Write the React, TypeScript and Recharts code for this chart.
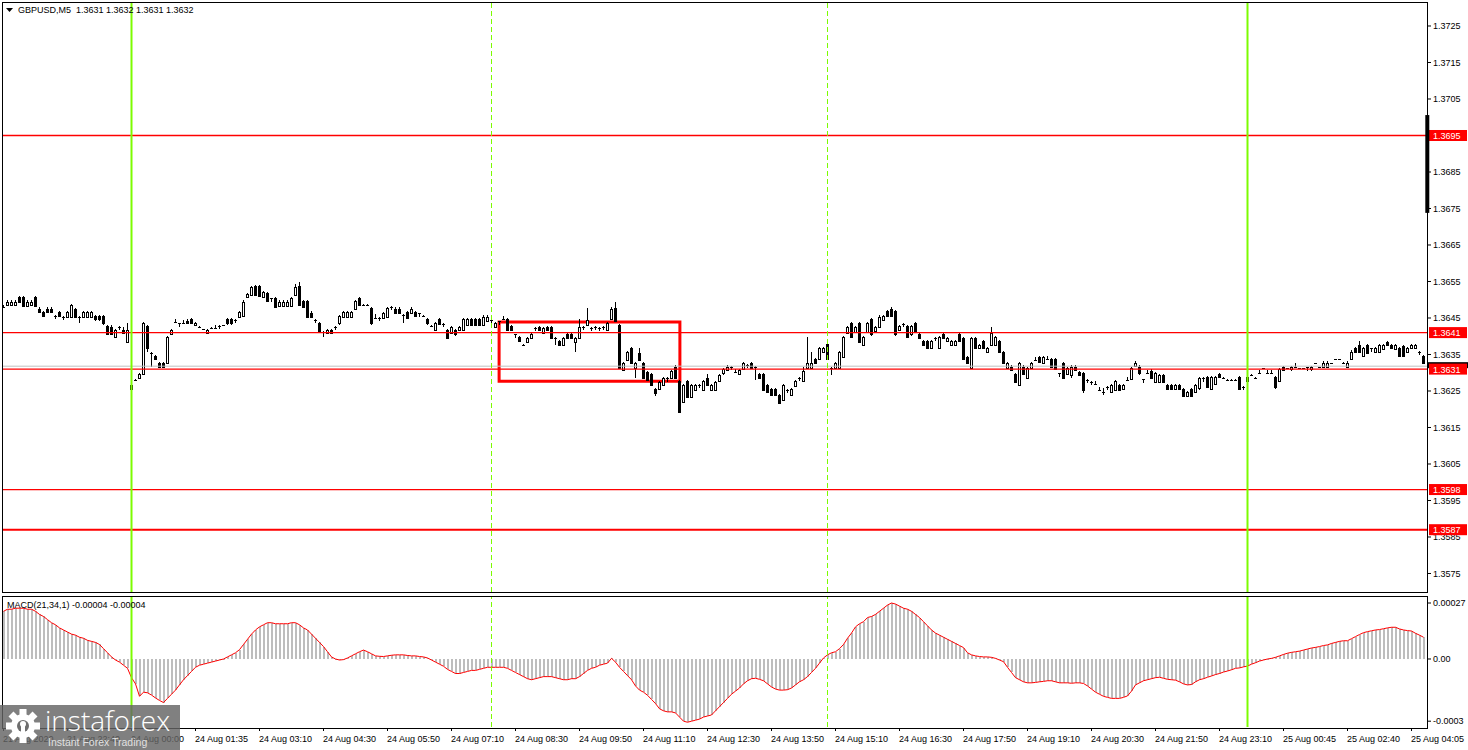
import { ComposedChart, Bar, Line, XAxis, YAxis, ReferenceLine, ReferenceArea } from "recharts"

// GBPUSD M5 candles, values in pips above 1.3600: [open, high, low, close]
const bars21Aug = [
    [48.1, 48.5, 47.7, 48.1], [48.5, 49.8, 48.2, 49.5], [48.5, 49.8, 48.2, 49.5], [48.6, 49.9, 48.3, 49.5],
    [50.7, 51.0, 49.2, 49.5], [50.7, 51.0, 48.0, 48.3], [48.3, 49.8, 48.0, 49.5], [48.5, 49.8, 48.2, 49.5],
    [50.8, 51.1, 48.0, 48.3], [47.6, 47.9, 46.3, 46.6], [46.7, 47.0, 45.2, 45.5], [47.6, 47.9, 46.3, 46.6],
    [47.6, 47.9, 46.3, 46.6], [45.5, 45.7, 44.6, 45.5], [46.7, 47.0, 45.2, 45.5], [45.4, 45.6, 44.5, 45.4],
    [45.4, 46.9, 45.1, 46.6], [45.4, 48.9, 45.1, 48.6], [47.5, 47.8, 45.1, 45.4], [45.4, 45.6, 43.5, 45.4],
    [45.4, 46.9, 45.1, 46.6], [45.4, 46.9, 45.1, 46.6], [45.4, 46.9, 45.1, 46.6], [45.5, 45.8, 44.3, 44.6],
    [45.5, 45.8, 44.3, 44.6], [45.5, 45.8, 43.2, 43.5], [42.8, 43.1, 40.3, 40.6], [42.5, 43.2, 40.3, 40.6],
    [39.7, 42.0, 39.4, 41.7], [42.6, 42.8, 41.7, 42.6], [41.7, 42.6, 40.5, 40.8], [38.5, 43.7, 38.2, 41.7],
]

const bars24AugNight = [
    [25.5, 26.9, 25.2, 26.6], [28.0, 28.2, 27.8, 28.0], [28.5, 29.9, 28.2, 29.6], [29.6, 43.8, 29.3, 43.5],
    [42.8, 43.1, 35.8, 36.7], [35.5, 35.7, 31.5, 35.5], [34.6, 34.9, 33.4, 33.7], [32.6, 32.9, 31.2, 31.5],
    [32.6, 32.9, 31.2, 31.5], [32.6, 40.0, 32.3, 39.7], [40.6, 42.0, 40.3, 41.7], [43.8, 44.6, 43.6, 43.8],
    [43.5, 43.7, 42.6, 43.5], [43.5, 44.4, 43.3, 43.5], [44.3, 44.6, 43.4, 43.7], [44.6, 44.9, 43.4, 43.7],
    [43.1, 44.0, 42.8, 43.7], [42.6, 42.8, 42.4, 42.6], [41.9, 42.1, 41.7, 41.9], [40.8, 42.0, 40.5, 41.7],
    [42.3, 42.5, 42.1, 42.3], [42.2, 43.1, 42.0, 42.2], [42.8, 43.0, 41.9, 42.8], [43.0, 43.2, 42.8, 43.0],
    [44.6, 44.9, 43.2, 43.5], [44.6, 44.9, 43.2, 43.5], [44.5, 44.7, 43.6, 44.5], [45.4, 46.9, 45.1, 46.6],
    [45.5, 49.8, 45.2, 49.5], [50.7, 51.9, 50.4, 51.6], [51.3, 53.9, 51.0, 53.6], [53.8, 54.1, 51.0, 51.3],
    [53.8, 54.1, 50.7, 51.0], [50.8, 52.5, 50.5, 52.2], [51.8, 52.1, 49.4, 49.7], [50.4, 50.6, 49.5, 50.4],
    [50.4, 50.7, 47.8, 48.1], [48.3, 49.8, 48.0, 49.5], [48.3, 49.8, 48.0, 49.5], [48.3, 49.8, 48.0, 49.5],
    [48.3, 50.7, 48.0, 50.4], [51.3, 54.3, 51.0, 53.6], [53.8, 54.9, 48.3, 48.6], [49.7, 50.0, 47.8, 48.1],
    [49.7, 50.0, 45.1, 45.4], [46.5, 46.8, 45.1, 45.4], [44.5, 44.7, 43.6, 44.5], [43.7, 44.0, 41.2, 41.5],
    [41.2, 41.4, 39.8, 41.2], [40.8, 42.0, 40.5, 41.7], [41.7, 42.0, 40.5, 40.8], [42.6, 42.8, 41.7, 42.6],
    [43.5, 45.8, 43.2, 45.5], [45.4, 46.9, 45.1, 46.6], [45.4, 46.9, 45.1, 46.6], [45.4, 46.9, 45.1, 46.6],
    [47.6, 50.0, 47.3, 49.7], [50.4, 50.7, 48.3, 48.6], [48.6, 48.8, 48.4, 48.6], [48.6, 48.8, 48.4, 48.6],
    [47.8, 48.1, 43.2, 43.5], [45.1, 46.0, 44.9, 45.1], [45.1, 45.3, 44.2, 45.1], [45.1, 46.6, 44.8, 46.3],
    [45.4, 48.1, 45.1, 47.8], [48.1, 48.3, 47.2, 48.1], [47.6, 47.9, 46.0, 46.3], [47.6, 47.9, 46.0, 46.3],
    [45.8, 46.0, 43.5, 45.8], [46.6, 46.9, 44.6, 44.9], [46.3, 47.9, 46.0, 47.6], [46.7, 47.0, 45.3, 45.6],
    [46.3, 46.5, 45.4, 46.3], [45.6, 45.8, 45.4, 45.6], [44.7, 45.0, 43.2, 43.5], [42.9, 43.1, 42.7, 42.9],
    [41.7, 43.8, 41.4, 43.5], [44.7, 45.0, 43.0, 43.3], [43.3, 43.5, 42.4, 43.3], [41.7, 42.0, 39.3, 39.6],
    [40.8, 42.9, 40.5, 42.6], [41.7, 42.0, 40.2, 40.5], [41.7, 42.9, 41.4, 42.6], [41.7, 45.0, 41.4, 44.7],
    [43.1, 45.0, 42.8, 44.7], [44.7, 45.0, 42.8, 43.1], [44.7, 45.0, 42.8, 43.1], [44.7, 45.0, 42.8, 43.1],
    [43.1, 45.7, 42.8, 45.4], [44.2, 45.7, 43.9, 45.4],
]

const bars24AugDay = [
    [44.5, 44.7, 43.6, 44.5], [42.6, 43.8, 42.3, 43.5], [44.1, 44.3, 43.2, 44.1], [44.7, 45.6, 44.5, 44.7],
    [44.7, 45.0, 41.4, 41.7], [42.9, 43.2, 41.4, 41.7], [40.5, 40.7, 39.6, 40.5], [39.9, 40.2, 38.4, 38.7],
    [37.6, 37.8, 37.4, 37.6], [38.5, 39.9, 38.2, 39.6], [39.6, 40.8, 39.3, 40.5], [42.2, 42.4, 41.3, 42.2],
    [42.6, 42.9, 41.4, 41.7], [40.8, 42.5, 40.5, 42.2], [42.6, 42.9, 41.4, 41.7], [42.6, 42.9, 39.3, 39.6],
    [39.6, 39.8, 37.6, 39.6], [38.7, 39.0, 37.3, 37.6], [37.6, 39.9, 37.3, 39.6], [40.5, 40.8, 39.3, 39.6],
    [40.5, 40.8, 39.3, 39.6], [38.5, 39.9, 35.8, 39.6], [39.6, 44.7, 39.3, 42.6], [42.6, 42.8, 41.7, 42.6],
    [43.1, 47.8, 42.8, 44.5], [42.3, 42.5, 41.4, 42.3], [42.6, 42.8, 41.7, 42.6], [42.2, 42.4, 41.3, 42.2],
    [42.6, 42.8, 41.7, 42.6], [41.7, 43.8, 41.4, 43.5], [44.7, 47.9, 44.4, 47.6], [47.8, 49.5, 43.9, 44.2],
    [43.1, 43.4, 31.1, 31.4], [30.8, 32.9, 30.5, 32.6], [33.5, 35.9, 33.2, 35.6], [36.7, 37.0, 32.3, 32.6],
    [31.4, 32.9, 28.5, 32.6], [35.3, 36.7, 33.2, 33.5], [32.6, 32.9, 28.2, 28.5], [30.3, 30.6, 27.7, 28.0],
    [29.6, 29.9, 26.3, 26.6], [25.5, 25.8, 23.5, 24.4], [25.5, 27.7, 25.2, 27.4], [26.6, 28.8, 26.3, 28.5],
    [28.5, 28.7, 27.6, 28.5], [28.5, 30.8, 28.2, 30.5], [31.7, 32.0, 28.2, 28.5], [27.7, 28.0, 19.0, 19.3],
    [22.1, 26.9, 21.8, 26.6], [27.7, 28.0, 23.1, 23.4], [23.4, 26.9, 23.1, 26.6], [25.3, 26.9, 25.0, 26.6],
    [26.6, 26.8, 25.7, 26.6], [25.3, 28.0, 25.0, 27.7], [28.5, 29.6, 26.3, 26.6], [25.3, 26.9, 25.0, 26.6],
    [25.3, 27.7, 25.0, 27.4], [27.7, 29.6, 27.4, 29.3], [29.8, 31.3, 29.5, 31.0], [30.8, 32.0, 30.5, 31.7],
    [31.7, 31.9, 30.8, 31.7], [30.1, 31.0, 29.9, 30.1], [29.6, 31.1, 29.3, 30.8], [31.0, 32.9, 30.7, 32.6],
    [32.2, 32.4, 31.3, 32.2], [32.6, 32.9, 31.1, 31.4], [31.7, 31.9, 28.0, 31.7], [29.6, 29.9, 28.2, 28.5],
    [29.6, 29.9, 25.0, 25.3], [26.6, 26.9, 24.5, 24.8], [25.5, 25.8, 23.6, 23.9], [25.5, 25.8, 23.6, 23.9],
    [23.9, 24.2, 21.3, 21.6], [22.5, 26.9, 22.2, 26.6], [25.3, 25.5, 24.4, 25.3], [23.9, 25.8, 23.6, 25.5],
    [26.5, 28.0, 26.2, 27.7], [28.6, 28.8, 27.7, 28.6], [27.7, 31.7, 27.4, 30.5], [31.4, 39.9, 31.1, 32.6],
    [31.4, 35.6, 31.1, 32.6], [33.8, 34.1, 32.3, 32.6], [33.8, 37.0, 33.5, 36.7], [35.6, 37.0, 35.3, 36.7],
]

const bars24AugEvening = [
    [37.8, 38.1, 33.5, 33.8], [31.4, 31.6, 29.3, 31.4], [31.4, 32.9, 31.1, 32.6], [31.4, 35.9, 31.1, 35.6],
    [34.4, 40.2, 34.1, 39.9], [40.8, 42.9, 40.5, 42.6], [43.5, 43.8, 39.6, 39.9], [41.1, 42.9, 40.8, 42.6],
    [43.5, 43.8, 38.2, 38.5], [37.6, 40.2, 37.3, 39.9], [41.1, 43.8, 40.8, 43.5], [44.7, 45.0, 40.2, 40.5],
    [41.3, 42.9, 41.0, 42.6], [42.6, 45.7, 42.3, 45.4], [44.5, 45.9, 44.2, 45.6], [46.9, 47.2, 45.3, 45.6],
    [47.6, 48.0, 45.3, 45.6], [46.9, 47.2, 40.2, 40.5], [41.7, 43.2, 41.4, 42.9], [43.3, 43.5, 42.4, 43.3],
    [42.9, 43.2, 39.6, 39.9], [40.5, 43.2, 40.2, 42.9], [43.5, 43.8, 41.1, 41.4], [40.5, 40.8, 39.3, 39.6],
    [38.7, 39.0, 37.3, 37.6], [38.7, 39.0, 36.4, 36.7], [36.7, 39.0, 36.4, 38.7], [39.6, 39.8, 38.7, 39.6],
    [36.7, 40.2, 36.4, 39.9], [40.5, 40.8, 39.3, 39.6], [38.7, 39.9, 38.4, 39.6], [37.6, 39.0, 37.3, 38.7],
    [37.6, 39.0, 37.3, 38.7], [40.5, 40.8, 38.4, 38.7], [39.6, 39.9, 33.5, 33.8], [34.4, 34.7, 32.3, 32.6],
    [31.4, 39.9, 31.1, 39.6], [39.6, 39.9, 36.4, 36.7], [36.7, 37.9, 36.4, 37.6], [38.7, 39.0, 36.4, 36.7],
    [35.6, 37.0, 35.3, 36.7], [37.6, 42.6, 37.3, 40.8], [37.6, 40.2, 37.3, 39.9], [38.7, 39.0, 35.3, 35.6],
    [35.6, 35.9, 32.3, 32.6], [31.4, 32.9, 31.1, 32.6], [31.7, 32.0, 30.5, 30.8], [29.6, 29.9, 27.1, 27.4],
    [26.6, 32.9, 26.3, 32.6], [31.7, 32.0, 29.3, 29.6], [28.5, 31.7, 28.2, 31.4], [31.2, 32.9, 30.9, 32.6],
    [33.5, 34.4, 33.3, 33.5], [34.4, 34.7, 32.7, 33.0], [32.6, 34.7, 32.3, 34.4], [33.8, 34.7, 33.6, 33.8],
    [33.8, 34.1, 31.4, 31.7], [33.8, 34.1, 30.7, 31.0], [29.8, 30.0, 28.9, 29.8], [32.6, 32.9, 28.2, 28.5],
    [29.6, 31.7, 29.3, 31.4], [29.3, 32.0, 28.5, 31.7], [31.7, 32.0, 30.5, 30.8], [30.3, 30.6, 29.1, 29.4],
    [29.8, 30.1, 24.5, 25.3], [28.0, 28.2, 27.1, 28.0], [27.5, 27.7, 26.6, 27.5], [26.9, 27.8, 26.7, 26.9],
    [25.3, 26.2, 25.1, 25.3], [24.8, 25.7, 24.0, 24.8], [26.2, 26.4, 25.3, 26.2], [24.8, 26.9, 24.5, 26.6],
    [25.3, 28.1, 25.0, 27.8], [26.6, 26.9, 25.0, 25.3], [25.5, 26.9, 25.2, 26.6], [28.0, 28.9, 27.8, 28.0],
    [28.2, 31.5, 27.9, 31.2], [31.8, 33.1, 31.5, 32.8], [31.7, 32.0, 29.5, 29.8], [28.2, 28.4, 27.3, 28.2],
    [29.8, 30.7, 29.6, 29.8], [30.6, 30.9, 28.2, 28.5], [27.5, 30.1, 27.2, 29.8], [27.5, 29.7, 27.2, 29.4],
    [29.4, 29.7, 27.2, 27.5], [26.6, 26.9, 25.2, 25.5], [26.6, 26.9, 25.2, 25.5], [25.5, 26.9, 25.2, 26.6],
    [26.6, 26.9, 25.2, 25.5], [25.5, 25.8, 23.3, 23.6], [23.6, 25.1, 23.3, 24.8], [25.5, 25.8, 23.3, 23.6],
    [24.8, 26.9, 24.5, 26.6], [25.7, 28.8, 25.4, 28.5], [28.5, 28.7, 27.6, 28.5], [28.8, 29.1, 25.9, 26.2],
    [25.5, 29.1, 25.2, 28.8], [26.9, 29.1, 26.6, 28.8], [29.7, 30.0, 28.5, 28.8], [28.5, 28.7, 28.3, 28.5],
    [28.0, 28.2, 27.8, 28.0], [28.0, 28.2, 27.8, 28.0], [28.0, 28.2, 27.8, 28.0], [28.8, 29.1, 25.2, 25.5],
    [26.2, 26.4, 25.3, 26.2],
]

const bars25Aug = [
    [27.8, 29.1, 27.5, 28.8], [29.4, 29.6, 29.2, 29.4], [28.5, 28.7, 28.3, 28.5], [29.8, 30.7, 29.6, 29.8],
    [31.2, 31.4, 31.0, 31.2], [29.8, 30.7, 29.6, 29.8], [29.8, 30.7, 29.6, 29.8], [28.8, 29.1, 25.5, 26.2],
    [27.8, 31.3, 27.5, 31.0], [31.5, 31.8, 30.5, 30.8], [31.2, 31.4, 31.0, 31.2], [30.9, 31.8, 30.6, 31.5],
    [31.5, 32.8, 31.3, 31.5], [31.2, 31.4, 31.0, 31.2], [31.2, 31.4, 31.0, 31.2], [31.5, 31.7, 30.6, 31.5],
    [30.9, 31.8, 30.6, 31.5], [32.6, 32.8, 32.4, 32.6], [31.5, 31.7, 31.3, 31.5], [31.7, 33.1, 31.4, 32.8],
    [31.7, 33.1, 31.4, 32.8], [32.6, 32.8, 32.4, 32.6], [33.7, 33.9, 33.5, 33.7], [33.7, 33.9, 33.5, 33.7],
    [32.8, 33.0, 32.6, 32.8], [31.5, 33.1, 31.2, 32.8], [33.7, 36.1, 33.4, 35.8], [36.7, 37.0, 35.5, 35.8],
    [37.6, 38.8, 35.5, 35.8], [34.6, 37.0, 34.3, 36.7], [37.6, 37.9, 35.2, 35.5], [36.7, 36.9, 35.8, 36.7],
    [35.8, 37.0, 35.5, 36.7], [35.8, 37.9, 35.5, 37.6], [36.4, 37.9, 36.1, 37.6], [38.5, 38.8, 37.3, 37.6],
    [37.6, 37.9, 36.4, 36.7], [36.4, 37.9, 36.1, 37.6], [36.7, 37.0, 34.3, 34.6], [37.3, 37.6, 34.3, 34.6],
    [35.8, 37.0, 35.5, 36.7], [36.7, 37.9, 36.4, 37.6], [36.7, 37.9, 36.4, 37.6], [35.8, 36.0, 34.9, 35.8],
    [34.6, 34.9, 32.3, 32.6],
]

// MACD(21,34,1) main value per candle, in units of 0.00001
const macd21Aug = [
    23, 24, 24, 24.5, 24.5, 24.5, 24, 24, 23, 21.5, 20.5, 19, 17.5, 16.5, 15, 14,
    13, 12, 11.5, 10.5, 10, 9, 8.5, 8, 7, 5, 3, 1, -0.5, -1.5, -3, -4.5,
]
const macd24AugNight = [
    -9, -12, -18, -16, -16.3, -17.4, -18.8, -20, -21, -19, -17, -15, -12.5, -10, -8, -6,
    -4, -3, -2.5, -2, -1.5, -1, -0.5, 0, 1, 2, 3, 4.5, 7, 9.5, 12, 14,
    15.5, 16.5, 17.5, 17.5, 17, 17, 17, 17, 17.5, 17.5, 16.5, 15, 14, 12, 10, 8,
    6, 3.5, 1, 0, -0.5, -0.3, 0.5, 1.5, 2.5, 3.5, 4.3, 3.5, 2.5, 1.5, 1.3, 1.2,
    1.5, 1.8, 2, 2, 2, 1.7, 1.5, 1.5, 1.2, 1, 0.5, -0.5, -1.5, -2.5, -3.5, -5,
    -6, -7, -7, -6.5, -6, -5.5, -5.5, -5, -4.5, -4,
]
const macd24AugDay = [
    -4, -4, -4, -4, -4.5, -5.5, -6.5, -7.5, -8.5, -9.5, -10, -9.5, -9, -8.5, -8.5, -8.5,
    -9, -9.5, -10, -10, -9.5, -9.5, -8.5, -7, -5.5, -4.5, -4, -3, -2.5, -2, 0.3, -1.5,
    -4, -6, -8, -10, -13, -15, -16, -17.5, -19.5, -21.5, -24, -25, -25.5, -25.5, -26, -28,
    -30, -30.5, -30, -29.5, -29, -28, -27.5, -27, -25, -23, -21, -19, -17, -15.5, -14, -12,
    -10.5, -9.5, -9.3, -9.8, -10.5, -12, -13.5, -14.5, -15, -15, -14.8, -14, -12.5, -11, -10, -8.5,
    -6.5, -4.5, -2, 0.5,
]
const macd24AugEvening = [
    2, 3, 3.5, 5, 7, 10, 12.5, 15.5, 17, 18, 20, 20.5, 21.5, 23, 24.5, 26,
    27, 26.5, 25.5, 24.5, 24, 23, 21.5, 20, 18, 16, 14, 12.5, 11.5, 10.5, 9.5, 8.5,
    7.5, 6.5, 5.5, 3, 2, 1.5, 1.2, 1, 1, 0.8, 0.3, -0.5, -1.3, -4, -6.5, -9,
    -10, -11, -11.5, -11.5, -11.3, -11, -10.8, -10.5, -10.5, -11, -11.5, -11.5, -11.5, -11.7, -11.5, -11.5,
    -11.8, -13, -14.5, -16, -17, -18, -18.5, -19, -19, -19, -18.5, -17.8, -15.5, -12.5, -11.5, -10.5,
    -10, -9.5, -9, -8.8, -9.3, -9.8, -10, -10.2, -11, -12, -12.5, -12.3, -11, -10, -9.5, -8.8,
    -8.2, -7.5, -7, -6.3, -5.8, -5.2, -4.5, -4.3, -3.8,
]
const macd25Aug = [
    -3.4, -2.5, -1.8, -1, -0.5, 0, 0.3, 0.8, 1.5, 2.2, 2.8, 3.2, 3.5, 3.8, 4.3, 4.8,
    5.3, 5.6, 6, 6.5, 6.8, 7.5, 8, 8.5, 8.8, 8.8, 9.8, 10.8, 11.8, 12.7, 13.2, 13.6,
    14, 14.2, 14.6, 15, 15.3, 15.3, 14.5, 14, 13.7, 13.5, 12.4, 11.5, 10.5,
]

const priceTicks = [
    1.3575, 1.3585, 1.3595, 1.3605, 1.3615, 1.3625, 1.3635, 1.3645,
    1.3655, 1.3665, 1.3675, 1.3685, 1.3695, 1.3705, 1.3715, 1.3725,
]
const levelPrices = [1.3695, 1.3641, 1.3631, 1.3598, 1.3587]
const bidPrice = 1.36318
const timeTickIdx = [0, 16, 32, 48, 64, 80, 96, 112, 128, 144, 160, 176, 192, 208, 224, 240, 256, 272, 288, 304, 320, 336, 352]
const timeLabels = [
    "21 Aug 2020", "21 Aug 22:40", "24 Aug 00:00", "24 Aug 01:35", "24 Aug 03:10", "24 Aug 04:30",
    "24 Aug 05:50", "24 Aug 07:10", "24 Aug 08:30", "24 Aug 09:50", "24 Aug 11:10", "24 Aug 12:30",
    "24 Aug 13:50", "24 Aug 15:10", "24 Aug 16:30", "24 Aug 17:50", "24 Aug 19:10", "24 Aug 20:30",
    "24 Aug 21:50", "24 Aug 23:10", "25 Aug 00:45", "25 Aug 02:40", "25 Aug 04:05",
]
const dayStarts = [32, 311]
const sessionMarks = [122, 206]
const macdTicks = [27, 0, -30]
const macdTickLabels = ["0.00027", "0.00", "-0.0003"]

const BASE = 1.36
const candles = [...bars21Aug, ...bars24AugNight, ...bars24AugDay, ...bars24AugEvening, ...bars25Aug]
const priceData = candles.map((c, i) => {
    const [o, h, l, cl] = c.map((p) => BASE + p / 10000)
    return { i, open: o, high: h, low: l, close: cl, range: [l, h] }
})
const macdValues = [...macd21Aug, ...macd24AugNight, ...macd24AugDay, ...macd24AugEvening, ...macd25Aug]
const macdData = macdValues.map((v, i) => ({ i, macd: v }))

const X_DOMAIN = [-0.375, 356.125]
const PRICE_DOMAIN = [1.356993, 1.37313]
const FONT = "'Liberation Sans', Arial, sans-serif"
const GREEN = "#7cfc00"
const levelWidths = [1.3, 1.3, 1.3, 1.3, 2]

function Candle(props: any) {
    const { x, y, width, height, payload } = props
    if (x == null || !payload) return null
    const top = Math.min(y, y + height)
    const span = Math.abs(height)
    const { open, close, high, low } = payload
    const k = span / (high - low)
    const yO = top + (high - open) * k
    const yC = top + (high - close) * k
    const c = Math.floor(x + width / 2)
    const bt = Math.round(Math.min(yO, yC))
    const bb = Math.round(Math.max(yO, yC))
    return (
        <g shapeRendering="crispEdges">
            <line x1={c + 0.5} x2={c + 0.5} y1={Math.round(top)} y2={Math.round(top + span)} stroke="#000" />
            {close > open ? (
                <rect x={c - 0.5} y={bt + 0.5} width={2} height={Math.max(1, bb - bt)} fill="#fff" stroke="#000" />
            ) : (
                <rect x={c - 1} y={bt} width={3} height={Math.max(1, bb - bt + 1)} fill="#000" />
            )}
        </g>
    )
}

function HistBar(props: any) {
    const { x, y, width, height } = props
    if (x == null) return null
    const c = Math.floor(x + width / 2)
    const top = Math.round(Math.min(y, y + height))
    const h = Math.max(1, Math.round(Math.abs(height)))
    return <rect x={c} y={top} width={2} height={h} fill="#bdbdbd" shapeRendering="crispEdges" />
}

const levelTag = (text: string) => (props: any) => {
    const vb = props.viewBox
    if (!vb) return null
    const x = vb.x + vb.width + 1
    const y = vb.y
    return (
        <g>
            <rect x={x} y={y - 5.5} width={38} height={11} fill="#ff0000" />
            <text x={x + 4} y={y + 3.5} fill="#fff" fontSize={9} fontFamily={FONT}>
                {text}
            </text>
        </g>
    )
}

// the bid price tag sits behind the 1.3631 tag, only its top edge shows
const bidTag = (props: any) => {
    const vb = props.viewBox
    if (!vb) return null
    return <rect x={vb.x + vb.width} y={vb.y - 4} width={40} height={6} fill="#000" />
}

function TimeTick(props: any) {
    const { x, y, payload } = props
    const idx = timeTickIdx.indexOf(payload.value)
    const px = Math.floor(x) + 0.5
    return (
        <g>
            <line x1={px} x2={px} y1={y + 1} y2={y + 4} stroke="#000" shapeRendering="crispEdges" />
            <text x={px - 0.5} y={y + 15} fontSize={9} fontFamily={FONT} fill="#000">
                {timeLabels[idx]}
            </text>
        </g>
    )
}

function PriceChart() {
    return (
        <ComposedChart width={1468} height={595} data={priceData} margin={{ top: 3, right: 0, left: 2, bottom: 3 }}>
            <XAxis type="number" dataKey="i" domain={X_DOMAIN} allowDataOverflow hide />
            <YAxis
                orientation="right"
                type="number"
                domain={PRICE_DOMAIN}
                allowDataOverflow
                ticks={priceTicks}
                interval={0}
                tickFormatter={(v: number) => v.toFixed(4)}
                width={40}
                tickSize={3}
                tickMargin={2}
                axisLine={false}
                tickLine={{ stroke: "#000" }}
                tick={{ fontSize: 9, fill: "#000", fontFamily: FONT }}
            />
            <ReferenceLine y={bidPrice} stroke="#c0c0c0" strokeWidth={1} />
            {levelPrices.map((p, k) => (
                <ReferenceLine key={p} y={p} stroke="#ff0000" strokeWidth={levelWidths[k]} />
            ))}
            <Bar dataKey="range" barSize={4} shape={(p: any) => <Candle {...p} />} isAnimationActive={false} />
            {dayStarts.map((d) => (
                <ReferenceLine key={d} x={d} stroke={GREEN} strokeWidth={2} />
            ))}
            {sessionMarks.map((d) => (
                <ReferenceLine key={d} x={d} stroke={GREEN} strokeWidth={1} strokeDasharray="5 3" />
            ))}
            <ReferenceArea
                x1={123.9}
                x2={169.1}
                y1={1.36277}
                y2={1.36439}
                fill="none"
                fillOpacity={0}
                stroke="#ff0000"
                strokeWidth={3}
                ifOverflow="visible"
            />
        </ComposedChart>
    )
}

// price tags on the right scale, drawn in a layer above the axis labels
function PriceTags() {
    return (
        <ComposedChart width={1468} height={595} data={priceData} margin={{ top: 3, right: 0, left: 2, bottom: 3 }}>
            <XAxis type="number" dataKey="i" domain={X_DOMAIN} allowDataOverflow hide />
            <YAxis orientation="right" type="number" domain={PRICE_DOMAIN} allowDataOverflow width={40} tick={false} tickLine={false} axisLine={false} />
            <ReferenceLine y={bidPrice} stroke="none" strokeOpacity={0} label={bidTag} />
            {levelPrices.map((p) => (
                <ReferenceLine key={p} y={p} stroke="none" strokeOpacity={0} label={levelTag(p.toFixed(4))} />
            ))}
            <ReferenceLine
                segment={[
                    { x: 355.95, y: 1.37006 },
                    { x: 355.95, y: 1.36738 },
                ]}
                stroke="#000"
                strokeWidth={4}
                ifOverflow="visible"
            />
        </ComposedChart>
    )
}

function MacdChart() {
    return (
        <ComposedChart width={1468} height={156} data={macdData} margin={{ top: 3, right: 0, left: 2, bottom: 0 }}>
            <XAxis
                type="number"
                dataKey="i"
                domain={X_DOMAIN}
                allowDataOverflow
                ticks={timeTickIdx}
                interval={0}
                height={23}
                tickSize={0}
                tickMargin={0}
                axisLine={false}
                tickLine={false}
                tick={(p: any) => <TimeTick {...p} />}
            />
            <YAxis
                orientation="right"
                type="number"
                domain={[-32.8, 29.9]}
                allowDataOverflow
                ticks={macdTicks}
                interval={0}
                tickFormatter={(v: number) => macdTickLabels[macdTicks.indexOf(v)]}
                width={40}
                tickSize={3}
                tickMargin={2}
                axisLine={false}
                tickLine={{ stroke: "#000" }}
                tick={{ fontSize: 9, fill: "#000", fontFamily: FONT }}
            />
            <Bar dataKey="macd" barSize={2} shape={(p: any) => <HistBar {...p} />} isAnimationActive={false} />
            <Line type="linear" dataKey="macd" stroke="#ff0000" strokeWidth={1} dot={false} isAnimationActive={false} />
            {dayStarts.map((d) => (
                <ReferenceLine key={d} x={d} stroke={GREEN} strokeWidth={2} />
            ))}
            {sessionMarks.map((d) => (
                <ReferenceLine key={d} x={d} stroke={GREEN} strokeWidth={1} strokeDasharray="5 3" />
            ))}
        </ComposedChart>
    )
}

function Gear() {
    const teeth = [0, 45, 90, 135, 180, 225, 270, 315]
    return (
        <svg width={36} height={36} viewBox="-18 -18 36 36" style={{ position: "absolute", left: 5, top: 3 }}>
            {teeth.map((a) => (
                <rect key={a} x={-3.5} y={-17} width={7} height={8} fill="#fff" transform={`rotate(${a})`} />
            ))}
            <circle r={12} fill="#fff" />
            <circle r={6} fill="#6e6e6e" />
            <rect x={-2} y={-2} width={4} height={14} fill="#fff" />
            <circle cy={-2} r={3} fill="#fff" />
        </svg>
    )
}

export default function App() {
    return (
        <div
            style={{
                position: "fixed",
                left: 0,
                top: 0,
                width: 1468,
                height: 750,
                background: "#fff",
                overflow: "hidden",
                fontFamily: FONT,
            }}
        >
            <div style={{ position: "absolute", left: 0, top: 0 }}>
                <PriceChart />
            </div>
            <div style={{ position: "absolute", left: 0, top: 594 }}>
                <MacdChart />
            </div>
            <div style={{ position: "absolute", left: 2, top: 2, width: 1426, height: 591, border: "1px solid #000", boxSizing: "border-box", pointerEvents: "none" }} />
            <div style={{ position: "absolute", left: 2, top: 596, width: 1426, height: 133, border: "1px solid #000", boxSizing: "border-box", pointerEvents: "none" }} />
            <div style={{ position: "absolute", left: 0, top: 0, pointerEvents: "none" }}>
                <PriceTags />
            </div>
            <svg width={8} height={6} style={{ position: "absolute", left: 6, top: 8 }}>
                <polygon points="0,0 7,0 3.5,4" fill="#000" />
            </svg>
            <div style={{ position: "absolute", left: 18, top: 5, fontSize: 9, color: "#000", whiteSpace: "pre" }}>
                {"GBPUSD,M5  1.3631 1.3632 1.3631 1.3632"}
            </div>
            <div style={{ position: "absolute", left: 7, top: 600, fontSize: 9, color: "#000", whiteSpace: "pre" }}>
                {"MACD(21,34,1) -0.00004 -0.00004"}
            </div>
            <div style={{ position: "absolute", left: 0, top: 705, width: 180, height: 45, background: "rgba(100,100,100,0.82)" }}>
                <Gear />
                <div style={{ position: "absolute", left: 45, top: -3, fontSize: 28, color: "#fff", fontFamily: "'Open Sans', sans-serif", fontWeight: 300, lineHeight: "36px" }}>
                    instaforex
                </div>
                <div style={{ position: "absolute", left: 48, top: 31, fontSize: 10.5, color: "#e0e0e0", lineHeight: "12px" }}>
                    Instant Forex Trading
                </div>
            </div>
        </div>
    )
}
